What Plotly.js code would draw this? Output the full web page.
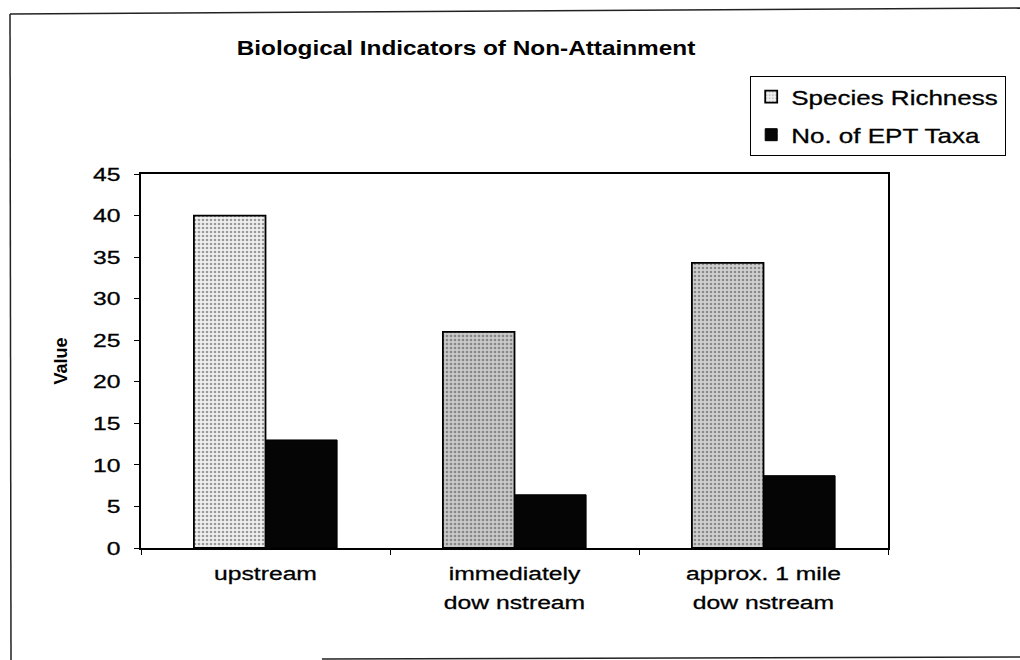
<!DOCTYPE html>
<html>
<head>
<meta charset="utf-8">
<script src="https://cdn.plot.ly/plotly-3.0.1.min.js"></script>
<style>
  html, body { margin: 0; padding: 0; background: #fff; }
  #chart { width: 1020px; height: 660px; }
  /* legend text is drawn horizontally widened (like the scanned original);
     let Plotly measure it with matching extra width so the legend box fits */
  #js-plotly-tester text.legendtext { letter-spacing: 3.1px; }
  /* the scanned text is a little heavier than regular Arial */
  #chart .xtick text, #chart .ytick text, #chart text.legendtext { stroke: #000; stroke-width: 0.3px; }
</style>
</head>
<body>
<div id="chart"></div>
<script>
// ---- data ----
const categories = ["upstream", "immediately<br>dow nstream", "approx. 1 mile<br>dow nstream"];
const speciesRichness = [40, 26, 34.3];
const eptTaxa = [13, 6.4, 8.7];
const seriesNames = ["Species Richness", "No. of EPT Taxa"];
const yTicks = [0, 5, 10, 15, 20, 25, 30, 35, 40, 45];

// ---- styles ----
const speciesBg = ["#f0f0f0", "#c9c9c9", "#d0d0d0"];
const speciesFg = ["#9a9a9a", "#727272", "#767676"];
const FONT = "Liberation Sans, Arial, Helvetica, sans-serif";
const TEXT_STRETCH = 1.3;    // scanned text is wider than Arial
const TITLE_STRETCH = 1.16;

// plot-area geometry (pixels) used to place frame lines in paper coords
const L = 141, R = 888, T = 174, B = 548, W = 1020, H = 660;
const px = x => (x - L) / (R - L);
const py = y => (B - y) / (B - T);

const traces = [
  {
    type: "bar",
    name: seriesNames[0],
    x: categories,
    y: speciesRichness,
    legendgroup: "a",
    marker: {
      color: speciesBg,
      line: { color: "#000", width: 1.8 },
      pattern: { shape: ".", bgcolor: speciesBg, fgcolor: speciesFg, size: 4, solidity: 0.35, fillmode: "overlay" }
    },
    hoverinfo: "x+y"
  },
  {
    type: "bar",
    name: seriesNames[1],
    x: categories,
    y: eptTaxa,
    legendgroup: "b",
    marker: { color: "#050505", line: { color: "#000", width: 1 } },
    hoverinfo: "x+y"
  }
];

const layout = {
  width: W,
  height: H,
  paper_bgcolor: "#fff",
  plot_bgcolor: "#fff",
  font: { family: FONT, size: 19, color: "#000" },
  margin: { l: L, r: W - R, t: T, b: H - B, pad: 0 },
  barmode: "group",
  bargap: 0.425,
  bargroupgap: 0,
  title: {
    text: "<b>Biological Indicators of Non-Attainment</b>",
    font: { family: FONT, size: 21, color: "#000" },
    x: 466 / W, xanchor: "center", xref: "container",
    y: 1 - 48 / H, yanchor: "middle", yref: "container"
  },
  xaxis: {
    type: "category",
    showline: true, linecolor: "#000", linewidth: 1.8, mirror: true,
    ticks: "outside", ticklen: 5, tickcolor: "#000", tickson: "boundaries",
    ticklabelstandoff: 7,
    showgrid: false, zeroline: false,
    tickfont: { family: FONT, size: 19, color: "#000" },
    fixedrange: true
  },
  yaxis: {
    range: [0, 45],
    tickvals: yTicks,
    showline: true, linecolor: "#000", linewidth: 1.8, mirror: true,
    ticks: "outside", ticklen: 5, tickcolor: "#000",
    ticklabelstandoff: 10,
    showgrid: false, zeroline: false,
    tickfont: { family: FONT, size: 19, color: "#000" },
    title: { text: "<b>Value</b>", font: { family: FONT, size: 18, color: "#000" }, standoff: 27 },
    automargin: false,
    fixedrange: true
  },
  showlegend: true,
  legend: {
    x: px(750), xanchor: "left",
    y: py(76), yanchor: "top",
    bgcolor: "#fff",
    bordercolor: "#000", borderwidth: 1.2,
    font: { family: FONT, size: 20, color: "#000" },
    traceorder: "grouped",
    tracegroupgap: 9,
    itemwidth: 30
  },
  shapes: [
    // scanned page frame
    { type: "line", xref: "paper", yref: "paper", x0: px(10), y0: py(14), x1: px(1020), y1: py(8), line: { color: "#222", width: 1.5 } },
    { type: "line", xref: "paper", yref: "paper", x0: px(10), y0: py(14), x1: px(11), y1: py(660), line: { color: "#222", width: 1.5 } },
    { type: "line", xref: "paper", yref: "paper", x0: px(322), y0: py(659), x1: px(1020), y1: py(657), line: { color: "#222", width: 1.5 } }
  ]
};

const gd = document.getElementById("chart");
Plotly.newPlot(gd, traces, layout, { displayModeBar: false, staticPlot: true }).then(() => {
  // widen glyphs horizontally around each text's own anchor point
  const stretch = (el, s) => {
    const x = parseFloat(el.getAttribute("x")) || 0;
    const y = parseFloat(el.getAttribute("y")) || 0;
    const t = el.getAttribute("transform") || "";
    el.setAttribute("transform", `${t} translate(${x},${y}) scale(${s},1) translate(${-x},${-y})`);
  };
  gd.querySelectorAll(".xtick text, .ytick text, text.legendtext").forEach(el => stretch(el, TEXT_STRETCH));
  gd.querySelectorAll("text.gtitle").forEach(el => stretch(el, TITLE_STRETCH));
  // slightly looser line spacing for two-line category labels
  gd.querySelectorAll(".xtick text tspan.line").forEach(ts => {
    const dy = parseFloat(ts.getAttribute("dy"));
    if (dy > 0) ts.setAttribute("dy", "1.55em");
  });
});
</script>
</body>
</html>
